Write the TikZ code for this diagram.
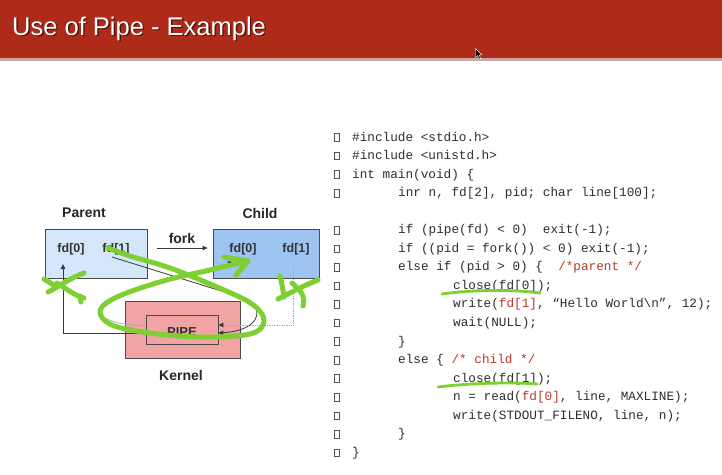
\documentclass[tikz,border=0pt]{standalone}
\usepackage{fontspec}
\setmainfont{Liberation Sans}
\newfontfamily\codefont{Liberation Mono}
\usetikzlibrary{arrows.meta,calc}

\definecolor{titlered}{HTML}{AE2B1A}
\definecolor{barline}{HTML}{C9A9A4}
\definecolor{parentblue}{HTML}{D4E7FA}
\definecolor{childblue}{HTML}{9EC4F2}
\definecolor{kernelpink}{HTML}{F2A3A3}
\definecolor{boxborder}{HTML}{4A4A4A}
\definecolor{linegray}{HTML}{3A3A3A}
\definecolor{lightline}{HTML}{A8A8A8}
\definecolor{codegray}{HTML}{2E2E2E}
\definecolor{bulgray}{HTML}{555555}
\definecolor{codered}{HTML}{B83A2C}
\definecolor{pengreen}{HTML}{7DCF32}

\begin{document}
\begin{tikzpicture}[x=1pt,y=-1pt,
  titletext/.style={anchor=base west, inner sep=0, font=\fontsize{25.5}{30}\selectfont},
  diabox/.style={draw=boxborder, line width=0.8pt, inner sep=0},
  lbl/.style={inner sep=0, font=\bfseries\fontsize{14}{16}\selectfont, text=black!85},
  fdlbl/.style={inner sep=0, font=\bfseries\fontsize{12.5}{14}\selectfont, text=black!80},
  arr/.style={draw=linegray, line width=0.8pt, -{Triangle[length=5pt,width=4.5pt]}},
  lightarr/.style={draw=lightline, line width=0.7pt, -{Triangle[length=5pt,width=4.5pt,color=linegray]}},
  dotarr/.style={draw=lightline, line width=0.7pt, densely dotted, -{Triangle[length=5pt,width=4.5pt,color=linegray]}},
  code/.style={anchor=base west, inner sep=0, font=\codefont\fontsize{12.7}{14}\selectfont, text=codegray},
  bul/.style={draw=bulgray, line width=0.8pt, minimum width=4.8pt, minimum height=7.6pt, inner sep=0},
  pen/.style={draw=pengreen, line width=5pt, line cap=round, line join=round},
  thinpen/.style={draw=pengreen, line width=2.8pt, line cap=round, line join=round}
]
\useasboundingbox (0,0) rectangle (722,474);
\fill[white] (0,0) rectangle (722,474);

% title bar
\fill[titlered] (0,0) rectangle (722,58);
\fill[barline] (0,58) rectangle (722,60.5);
\node[titletext, text=black, opacity=0.55] (titleshadow) at (13.4,36.4) {Use of Pipe - Example};
\node[titletext, text=white] (title) at (12,35) {Use of Pipe - Example};

% mouse cursor
\filldraw[fill=black, draw=white, line width=0.4pt]
  (475.5,48.5) -- (475.5,57.5) -- (477.6,55.6) -- (479.2,59) -- (480.6,58.4) -- (479.1,55.1) -- (482,55) -- cycle;

% ---------------- diagram ----------------
\node[diabox, fill=parentblue, minimum width=102pt, minimum height=49pt] (parent) at (96,253.5) {};
\node[diabox, fill=childblue, minimum width=106pt, minimum height=49pt] (child) at (266,253.5) {};
\node[diabox, fill=kernelpink, minimum width=115pt, minimum height=57pt] (kernel) at (182.5,329.5) {};
\node[diabox, fill=kernelpink, minimum width=72pt, minimum height=29pt] (pipe) at (182,329.5) {};

\node[lbl] (parentlbl) at (84,213) {Parent};
\node[lbl] (childlbl) at (260,213) {Child};
\node[lbl] (forklbl) at (182,238) {fork};
\node[lbl] (kernellbl) at (181,375) {Kernel};

\node[fdlbl] (pf0) at (71,249) {fd[0]};
\node[fdlbl] (pf1) at (116,249) {fd[1]};
\node[fdlbl] (cf0) at (243,249) {fd[0]};
\node[fdlbl] (cf1) at (296,249) {fd[1]};
\node[fdlbl, font=\bfseries\fontsize{13}{14}\selectfont] (pipelbl) at (182,332) {PIPE};

% fork arrow
\draw[arr] ([xshift=10pt,yshift=5.5pt]parent.east) -- ([xshift=-5pt,yshift=5.5pt]child.west);

% pipe -> parent fd[0]
\draw[arr] ([yshift=-4pt]pipe.west) -| ([xshift=-8pt,yshift=-15pt]pf0.center);

% parent fd[1] -> pipe
\draw[arr] ([xshift=-4pt,yshift=-8pt]pf1.center) -- (247,299)
  .. controls (262,306) and (264,330) .. ([yshift=-3.5pt]pipe.east);

% child fd[1] -> pipe (dotted)
\draw[dotarr] ([xshift=-3pt,yshift=-18pt]cf1.center) |- ([yshift=4.5pt]pipe.east);

% pipe -> child fd[0]
\draw[lightarr] ([yshift=4pt]pipe.west) .. controls (112,326) and (88,314) .. (104,303)
  .. controls (112,297) and (122,294) .. (135,291)
  -- ([xshift=-10pt,yshift=-13pt]cf0.center);

% ---------------- code ----------------
\foreach \i in {0,1,2,3,5,6,7,8,9,10,11,12,13,14,15,16,17}
  \node[bul] (b\i) at (337,{137.5+18.55*\i}) {};

\node[code] (c0) at (352,141) {\#include <stdio.h>};
\node[code] (c1) at (352,159.55) {\#include <unistd.h>};
\node[code] (c2) at (352,178.1) {int main(void) \{};
\node[code] (c3) at (398,196.65) {inr n, fd[2], pid; char line[100];};
\node[code] (c5) at (398,233.75) {if (pipe(fd) < 0)~~exit(-1);};
\node[code] (c6) at (398,252.3) {if ((pid = fork()) < 0) exit(-1);};
\node[code] (c7) at (398,270.85) {else if (pid > 0) \{~~\textcolor{codered}{/*parent */}};
\node[code] (c8) at (453,289.4) {close(fd[0]);};
\node[code] (c9) at (453,307.95) {write(\textcolor{codered}{fd[1]}, “Hello World\textbackslash n”, 12);};
\node[code] (c10) at (453,326.5) {wait(NULL);};
\node[code] (c11) at (398,345.05) {\}};
\node[code] (c12) at (398,363.6) {else \{ \textcolor{codered}{/* child */}};
\node[code] (c13) at (453,382.15) {close(fd[1]);};
\node[code] (c14) at (453,400.7) {n = read(\textcolor{codered}{fd[0]}, line, MAXLINE);};
\node[code] (c15) at (453,419.25) {write(STDOUT\_FILENO, line, n);};
\node[code] (c16) at (398,437.8) {\}};
\node[code] (c17) at (352,456.35) {\}};

% ---------------- green annotations ----------------
\draw[pen] plot[smooth, tension=0.6] coordinates {
  (108,248) (130,256) (170,268) (217,287) (252,304) (264,321) (250,334)
  (200,337) (150,333) (112,325) (100,311) (117,297) (163,281) (210,270) (248,261)};
\draw[pen] (224,257) -- (248,261) -- (236,275);

% parent X
\draw[pen] (44,279) -- (57,287);
\draw[pen] (48,292) .. controls (60,286) and (70,278) .. (84,273);
\draw[pen] (57,283) .. controls (68,290) and (76,296) .. (84,298);
\draw[pen] (80,296) -- (81,302);

% child X
\draw[pen] (280,276) .. controls (282,284) and (283,290) .. (284,297);
\draw[pen] (278,299) .. controls (292,292) and (305,285) .. (318,280);
\draw[pen] (292,283) .. controls (300,290) and (306,296) .. (303,306);

% code underlines
\draw[thinpen] (442,294) .. controls (470,290) and (510,289) .. (540,293);
\draw[thinpen] (438,387) .. controls (470,383) and (510,382) .. (537,384);
\end{tikzpicture}
\end{document}
